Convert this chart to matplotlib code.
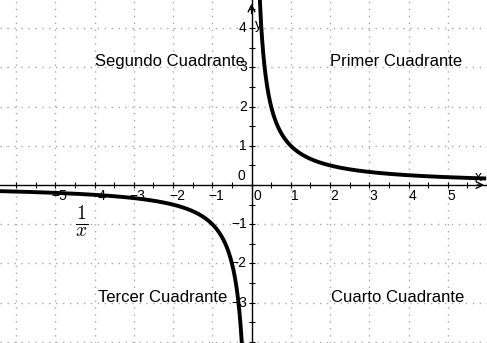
import numpy as np
import matplotlib
matplotlib.use("Agg")
import matplotlib.pyplot as plt

plt.rcParams['font.family'] = ['Liberation Sans', 'DejaVu Sans']
plt.rcParams['mathtext.fontset'] = 'cm'

# Axis window and tick values
x_min, x_max = -6.41, 5.98
y_min, y_max = -4.03, 4.72
x_tick_values = [-5, -4, -3, -2, -1, 1, 2, 3, 4, 5]
y_tick_values = [-3, -2, -1, 1, 2, 3, 4]

# Quadrant captions and their positions
quadrant_names = ["Segundo Cuadrante", "Primer Cuadrante", "Tercer Cuadrante", "Cuarto Cuadrante"]
quadrant_x = [-2.08, 3.69, -2.26, 3.72]
quadrant_y = [3.14, 3.14, -2.88, -2.88]

# Branches of y = 1/x
x_neg = np.linspace(x_min, -0.245, 600)
x_pos = np.linspace(0.21, x_max, 600)
y_neg = 1.0 / x_neg
y_pos = 1.0 / x_pos

fig = plt.figure(figsize=(4.87, 3.43), dpi=100)
ax = fig.add_axes([0, 0, 1, 1])
ax.set_xlim(x_min, x_max)
ax.set_ylim(y_min, y_max)

# dotted grid at integer positions
grid_style = dict(color='#a8a8a8', lw=1.0, ls=(0, (1, 4)), zorder=0)
for gx in range(-6, 6):
    if gx != 0:
        ax.axvline(gx, **grid_style)
for gy in range(-4, 5):
    if gy != 0:
        ax.axhline(gy, **grid_style)

# axes through the origin
for s in ['top', 'right']:
    ax.spines[s].set_visible(False)
ax.spines['left'].set_position(('data', 0))
ax.spines['bottom'].set_position(('data', 0))
ax.spines['left'].set_linewidth(1.0)
ax.spines['bottom'].set_linewidth(1.0)
ax.set_xticks(np.arange(-6, 6.01, 0.5))
ax.set_yticks(np.arange(-4, 4.51, 0.5))
ax.tick_params(direction='inout', length=4, width=0.8, labelbottom=False, labelleft=False)

# arrowheads
ax.annotate('', xy=(0, 4.7), xytext=(0, 4.3),
            arrowprops=dict(arrowstyle='->', lw=1.0, color='black', mutation_scale=12))
ax.annotate('', xy=(x_max + 0.02, 0), xytext=(x_max - 0.3, 0),
            arrowprops=dict(arrowstyle='->', lw=1.0, color='black', mutation_scale=12))

# tick labels
for v in x_tick_values:
    lab = str(v).replace('-', '\u2212')
    ax.text(v + 0.1, -0.1, lab, ha='center', va='top', fontsize=10)
ax.text(0.15, -0.1, '0', ha='center', va='top', fontsize=10)
for v in y_tick_values:
    lab = str(v).replace('-', '\u2212')
    ax.text(-0.12, v, lab, ha='right', va='center', fontsize=10)
ax.text(-0.15, 0.05, '0', ha='right', va='bottom', fontsize=10)

# axis names
ax.text(0.18, 4.08, 'y', ha='center', va='center', fontsize=10)
ax.text(5.78, 0.2, 'x', ha='center', va='center', fontsize=10)

# the curve
ax.plot(x_neg, y_neg, color='black', lw=2.8, solid_capstyle='butt', zorder=3)
ax.plot(x_pos, y_pos, color='black', lw=2.8, solid_capstyle='butt', zorder=3)

ax.text(-4.33, -0.94, r'$\frac{1}{x}$', ha='center', va='center', fontsize=20)

for name, qx, qy in zip(quadrant_names, quadrant_x, quadrant_y):
    ax.text(qx, qy, name, ha='center', va='center', fontsize=12)

fig.savefig('out.png', dpi=100)
